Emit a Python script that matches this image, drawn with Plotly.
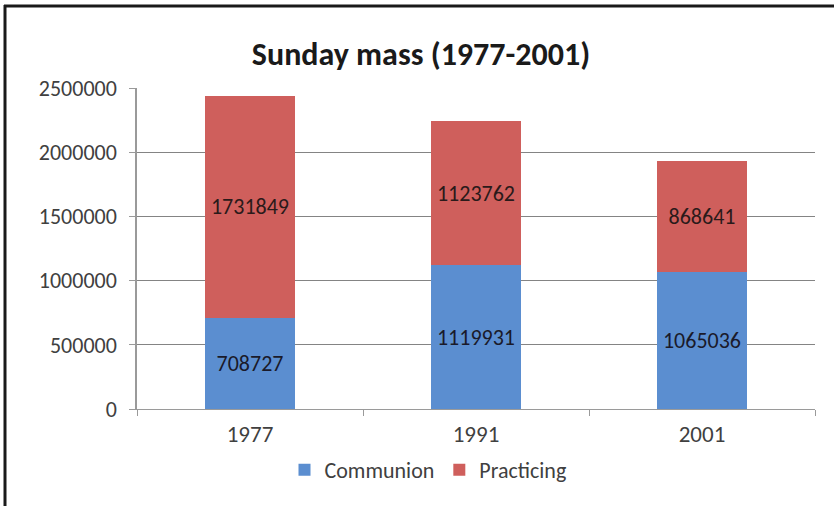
import plotly.graph_objects as go

years = ["1977", "1991", "2001"]
communion = [708727, 1119931, 1065036]
practicing = [1731849, 1123762, 868641]
y_ticks = [0, 500000, 1000000, 1500000, 2000000, 2500000]

FONT = "Carlito, Lato, 'Open Sans', sans-serif"

fig = go.Figure()
fig.add_trace(go.Bar(
    x=years, y=communion, name="Communion",
    marker=dict(color="#5B8ED0", line=dict(width=0)),
    text=[str(v) for v in communion], textposition="inside",
    insidetextanchor="middle", textangle=0,
    textfont=dict(family=FONT, size=22, color="#1a1a2a"),
    width=0.4,
))
fig.add_trace(go.Bar(
    x=years, y=practicing, name="Practicing",
    marker=dict(color="#CF5F5C", line=dict(width=0)),
    text=[str(v) for v in practicing], textposition="inside",
    insidetextanchor="middle", textangle=0,
    textfont=dict(family=FONT, size=22, color="#2a1a1a"),
    width=0.4,
))

W, H = 834, 506
L, R, T, B = 137, 19, 88, 97
pw = W - L - R
ph = H - T - B

def px(x):
    return (x - L) / pw

def py(y):
    return (H - B - y) / ph

fig.update_layout(
    width=W, height=H,
    barmode="stack",
    bargap=0.6,
    margin=dict(l=L, r=R, t=T, b=B, autoexpand=False),
    paper_bgcolor="white", plot_bgcolor="white",
    font=dict(family=FONT, color="#404040"),
    title=dict(text="<b>Sunday mass (1977-2001)</b>", x=px(421), xref="paper", xanchor="center",
               y=1 - 54 / H, yanchor="middle",
               font=dict(family=FONT, size=32, color="#1a1a1a")),
    showlegend=True,
    legend=dict(orientation="h", x=px(428), xanchor="center", y=py(470), yanchor="middle",
                font=dict(family=FONT, size=22, color="#404040"),
                itemwidth=30, traceorder="normal", bgcolor="rgba(0,0,0,0)"),
    xaxis=dict(showgrid=False, showline=True, linecolor="#9a9a9a", linewidth=1,
               ticks="outside", tickson="boundaries", ticklen=6, tickcolor="#9a9a9a",
               tickfont=dict(family=FONT, size=23, color="#404040"), ticklabelstandoff=4),
    yaxis=dict(range=[0, 2500000], tickvals=y_ticks, ticktext=[str(v) for v in y_ticks],
               showgrid=True, gridcolor="#848484", gridwidth=1,
               showline=True, linecolor="#9a9a9a", linewidth=1.5,
               ticks="outside", ticklen=6, tickcolor="#9a9a9a",
               tickfont=dict(family=FONT, size=22, color="#404040"), ticklabelstandoff=8,
               zeroline=False),
    shapes=[
        dict(type="line", xref="paper", yref="paper", x0=px(5), x1=px(5), y0=py(5), y1=py(510),
             line=dict(color="#1a1a1a", width=3)),
        dict(type="line", xref="paper", yref="paper", x0=px(4), x1=px(840), y0=py(6), y1=py(6),
             line=dict(color="#1a1a1a", width=3)),
    ],
)

fig.write_html("out.html", config={"displayModeBar": False},
               post_script="document.body.style.margin='0';document.body.style.padding='0';")
